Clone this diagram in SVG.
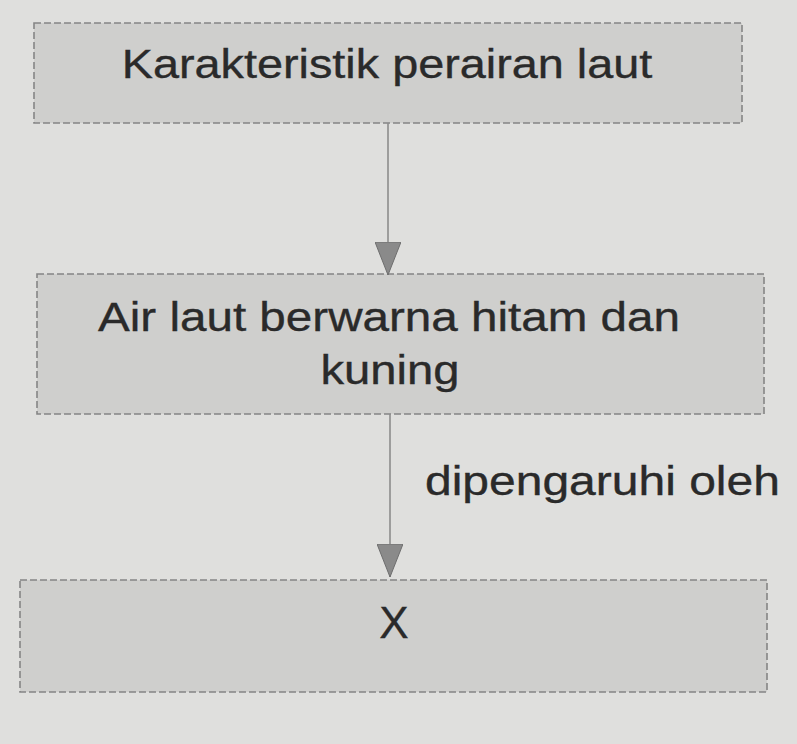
<svg xmlns="http://www.w3.org/2000/svg" width="797" height="744" viewBox="0 0 797 744">
  <style>
    .box { fill: #cfcfcd; stroke: #858585; stroke-width: 1.6; stroke-dasharray: 7 3; }
    .txt { font-family: "Liberation Sans", Arial, sans-serif; font-size: 40px; fill: #2a2a2a; stroke: #2a2a2a; stroke-width: 0.35; }
    .conn { stroke: #8c8c8c; stroke-width: 1.6; fill: none; }
  </style>
  <defs>
    <marker id="head" viewBox="0 0 33 26" refX="33" refY="13" markerWidth="33" markerHeight="26" markerUnits="userSpaceOnUse" orient="auto">
      <path d="M0,0 L33,13 L0,26 Z" fill="#8a8a8a" stroke="#6e6e6e" stroke-width="1"/>
    </marker>
  </defs>
  <rect x="0" y="0" width="797" height="744" fill="#dfdfdd"/>

  <g id="node-karakteristik">
    <rect class="box" x="34" y="23" width="708" height="100"/>
    <text class="txt" transform="translate(387,78) scale(1.17,1)" text-anchor="middle">Karakteristik perairan laut</text>
  </g>

  <g id="node-air-laut">
    <rect class="box" x="37" y="274" width="727" height="140"/>
    <text class="txt" transform="translate(389,331) scale(1.19,1)" text-anchor="middle">Air laut berwarna hitam dan</text>
    <text class="txt" transform="translate(390,384) scale(1.18,1)" text-anchor="middle">kuning</text>
  </g>

  <g id="node-x">
    <rect class="box" x="20" y="580" width="747" height="112"/>
    <text class="txt" x="394" y="638" text-anchor="middle" style="font-size:44px">X</text>
  </g>

  <g id="connectors">
    <line class="conn" x1="388" y1="123" x2="388" y2="275" marker-end="url(#head)"/>
    <line class="conn" x1="390" y1="414" x2="390" y2="577" marker-end="url(#head)"/>
    <text class="txt" transform="translate(425,495) scale(1.2,1)">dipengaruhi oleh</text>
  </g>
</svg>
